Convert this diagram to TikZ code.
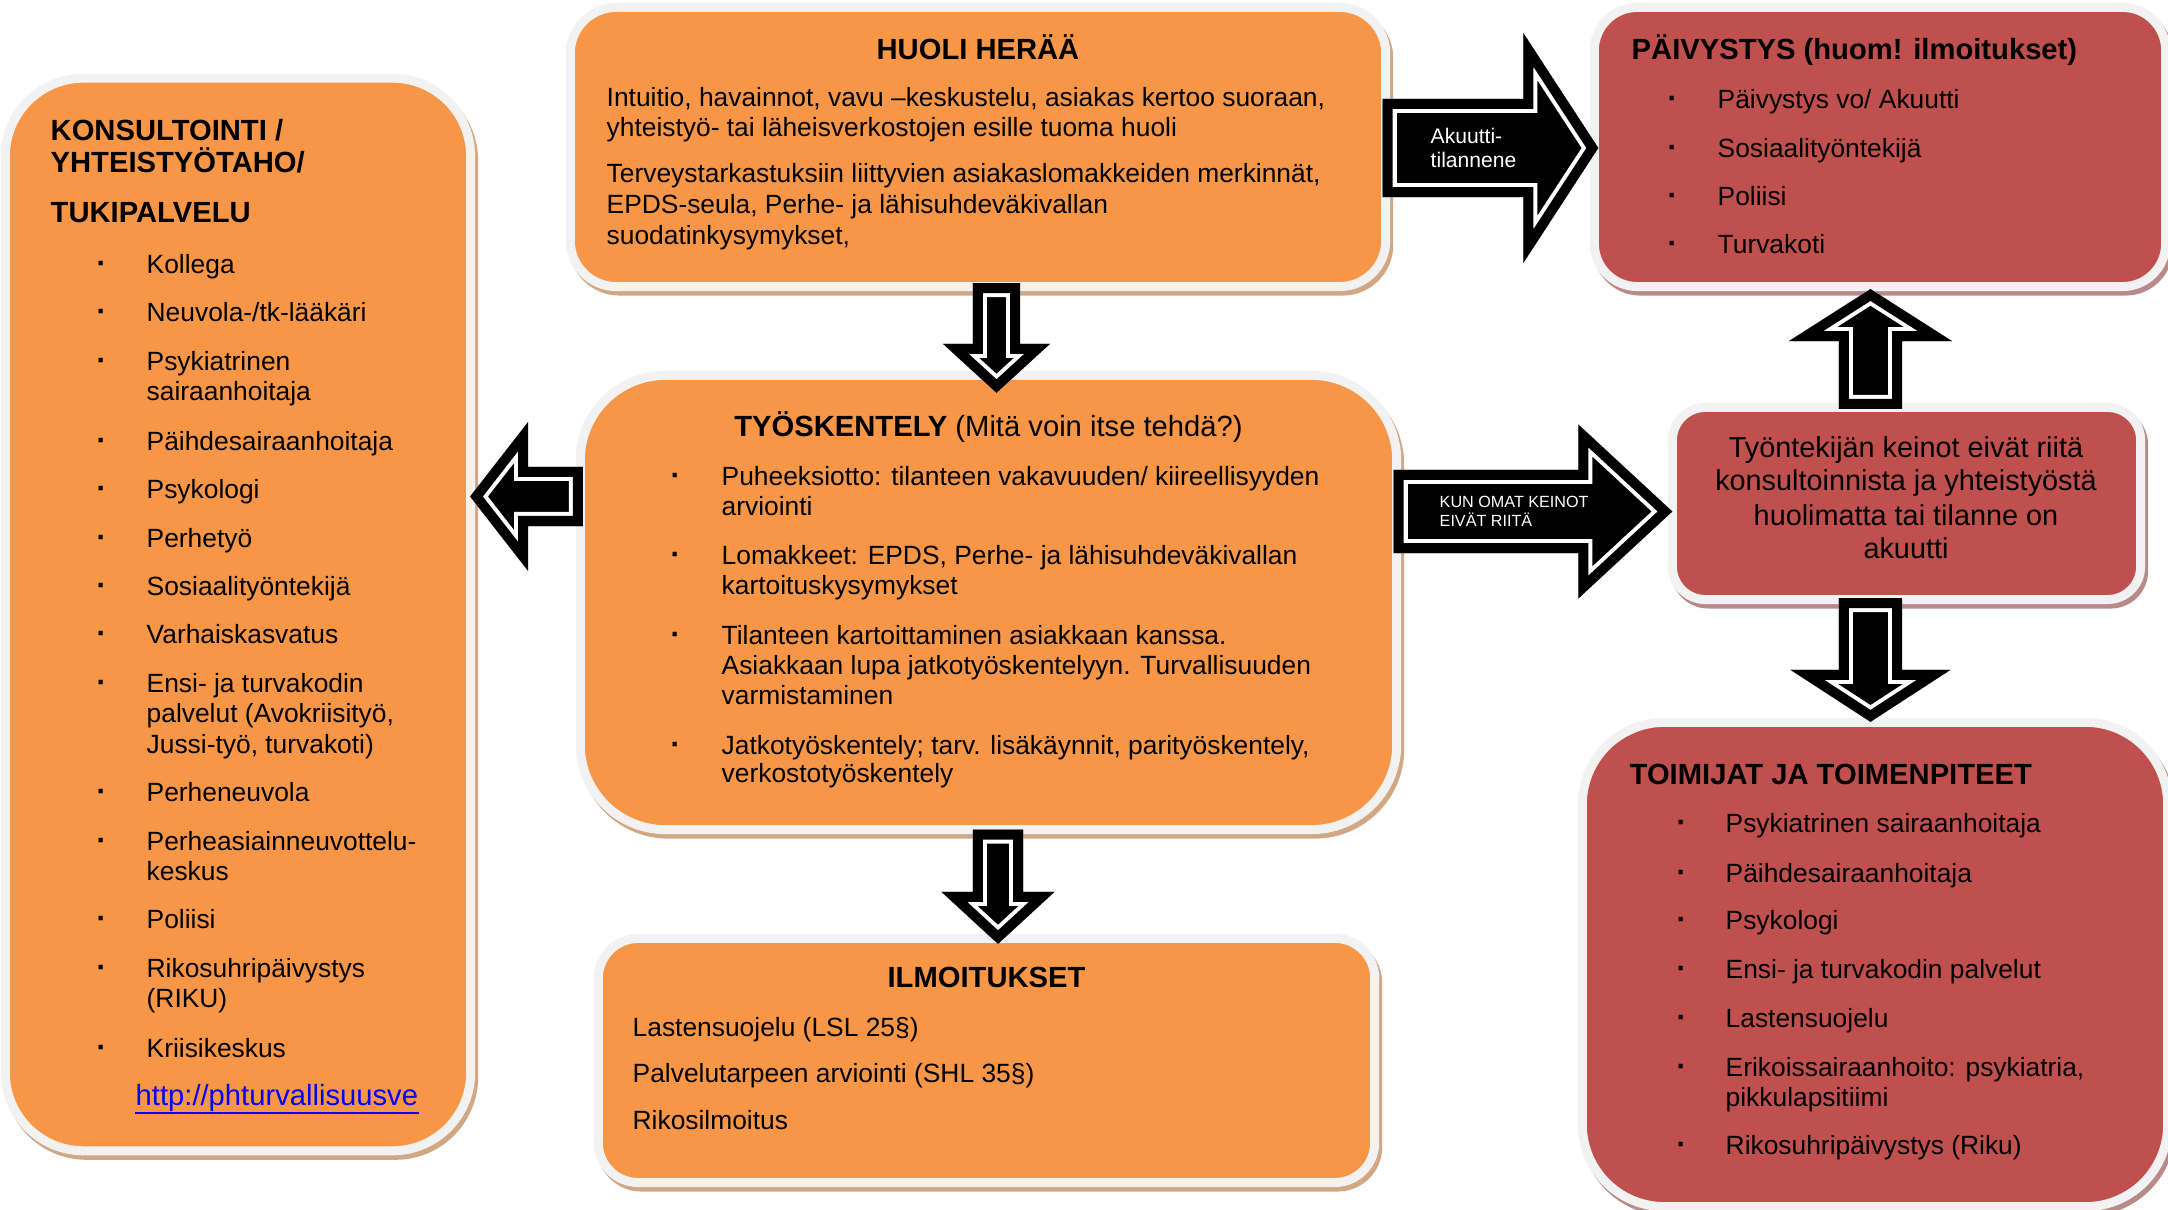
\documentclass[tikz,border=0pt]{standalone}
\usepackage{fontspec}
\setmainfont{Liberation Sans}
\usetikzlibrary{calc}

\definecolor{boxorange}{RGB}{247,150,70}
\definecolor{boxred}{RGB}{192,80,77}
\definecolor{rimgray}{RGB}{242,242,242}
\definecolor{tanshadow}{RGB}{210,168,132}
\definecolor{redshadow}{RGB}{185,138,138}
\definecolor{linkblue}{RGB}{0,0,255}

% block arrow: tail, tip, shaft half width, head half width, head length
\newcommand{\blockarrow}[5]{%
  \coordinate (ba-p) at (#2);
  \coordinate (ba-b) at ($(#2)!#5!(#1)$);
  \coordinate (ba-t1) at ($(#1)!#3!90:(#2)$);
  \coordinate (ba-t2) at ($(#1)!#3!-90:(#2)$);
  \coordinate (ba-s1) at ($(ba-b)!#3!90:(ba-p)$);
  \coordinate (ba-s2) at ($(ba-b)!#3!-90:(ba-p)$);
  \coordinate (ba-h1) at ($(ba-b)!#4!90:(ba-p)$);
  \coordinate (ba-h2) at ($(ba-b)!#4!-90:(ba-p)$);
  \begin{scope}
    \clip (ba-t1) -- (ba-s1) -- (ba-h1) -- (ba-p) -- (ba-h2) -- (ba-s2) -- (ba-t2) -- cycle;
    \fill[black, postaction={draw=white, line width=0.28cm}, postaction={draw=black, line width=0.2cm}]
      (ba-t1) -- (ba-s1) -- (ba-h1) -- (ba-p) -- (ba-h2) -- (ba-s2) -- (ba-t2) -- cycle;
  \end{scope}}

\tikzset{
  box/.style={rectangle, rounded corners=#1, draw=rimgray, line width=0.09cm, outer sep=0pt, inner sep=0pt},
  orangebox/.style={box=#1, fill=boxorange,
    preaction={draw=tanshadow, fill=tanshadow, line width=0.09cm, transform canvas={xshift=0.03cm, yshift=-0.045cm}}},
  redbox/.style={box=#1, fill=boxred,
    preaction={draw=redshadow, fill=redshadow, line width=0.09cm, transform canvas={xshift=0.03cm, yshift=-0.045cm}}},
  txt/.style={anchor=base west, inner sep=0pt, font=\fontsize{7.5}{9}\selectfont},
  bul/.style={anchor=base west, inner sep=0pt, font=\fontsize{8.5}{9}\selectfont\bfseries},
  ttl/.style={anchor=base west, inner sep=0pt, font=\fontsize{8.3}{10}\selectfont\bfseries},
  albl/.style={anchor=base west, inner sep=0pt, text=white}
}

\begin{document}
\begin{tikzpicture}[x=0.01cm, y=-0.01cm]
  \useasboundingbox (0,0) rectangle (2168,1210);

  % boxes
  \node[orangebox=0.46cm, minimum width=8.15cm, minimum height=2.79cm] (huoli) at (978,147) {};
  \node[orangebox=0.78cm, minimum width=4.65cm, minimum height=10.72cm] (konsult) at (238,614.5) {};
  \node[orangebox=0.85cm, minimum width=8.16cm, minimum height=4.54cm] (tyo) at (988.5,602.5) {};
  \node[orangebox=0.40cm, minimum width=7.76cm, minimum height=2.44cm] (ilmo) at (986.5,1060.5) {};
  \node[redbox=0.43cm, minimum width=5.71cm, minimum height=2.79cm] (paiv) at (1880,147) {};
  \node[redbox=0.33cm, minimum width=4.68cm, minimum height=1.92cm] (tyon) at (1906.5,503.5) {};
  \node[redbox=0.82cm, minimum width=5.85cm, minimum height=4.84cm] (toim) at (1875,964.5) {};

  % arrows between the boxes
  \coordinate (a1s) at ($(huoli.east)+(-3,1)$);
  \coordinate (a1e) at ($(paiv.west)+(4,1)$);
  \coordinate (a2s) at ($(tyo.east |- tyon.west)+(-3,8)$);
  \coordinate (a2e) at ($(tyon.west)+(0,8)$);
  \coordinate (a3s) at ($(huoli.south)+(18.5,-3.5)$);
  \coordinate (a3e) at ($(tyo.north)+(8,17.5)$);
  \coordinate (a4s) at ($(tyo.south)+(9.5,0)$);
  \coordinate (a4e) at ($(ilmo.north)+(11.5,5.5)$);
  \coordinate (a5s) at ($(tyon.north)+(-36,1.5)$);
  \coordinate (a5e) at ($(paiv.south)+(-9.5,2.5)$);
  \coordinate (a6s) at ($(tyon.south)+(-36,-1.5)$);
  \coordinate (a6e) at ($(toim.north)+(-4.5,-0.5)$);
  \coordinate (a7s) at ($(tyo.west)+(2.5,-106)$);
  \coordinate (a7e) at ($(konsult.east)+(-0.5,-118)$);

  \blockarrow{a1s}{a1e}{0.49cm}{1.15cm}{0.75cm}
  \blockarrow{a2s}{a2e}{0.415cm}{0.87cm}{0.94cm}
  \blockarrow{a3s}{a3e}{0.235cm}{0.535cm}{0.49cm}
  \blockarrow{a4s}{a4e}{0.25cm}{0.565cm}{0.52cm}
  \blockarrow{a5s}{a5e}{0.315cm}{0.815cm}{0.52cm}
  \blockarrow{a6s}{a6e}{0.315cm}{0.80cm}{0.52cm}
  \blockarrow{a7s}{a7e}{0.295cm}{0.745cm}{0.58cm}

  \node[albl, font=\fontsize{6}{7}\selectfont] (ak1) at (1430,144) {Akuutti-};
  \node[albl, font=\fontsize{6}{7}\selectfont] (ak2) at (1430,168) {tilannene};
  \node[albl, font=\fontsize{4.6}{5.5}\selectfont] (ko1) at (1439,508) {KUN OMAT KEINOT};
  \node[albl, font=\fontsize{4.6}{5.5}\selectfont] (ko2) at (1439,527) {EIVÄT RIITÄ};

  % HUOLI HERÄÄ
  \node[ttl, anchor=base] (huolit) at (978,60) {HUOLI HERÄÄ};
  \foreach \y/\t in {107/{Intuitio, havainnot, vavu –keskustelu, asiakas kertoo suoraan,},
                     137/{yhteistyö- tai läheisverkostojen esille tuoma huoli},
                     183/{Terveystarkastuksiin liittyvien asiakaslomakkeiden merkinnät,},
                     214/{EPDS-seula, Perhe- ja lähisuhdeväkivallan},
                     245/{suodatinkysymykset,}}
    \node[txt] (h\y) at (606,\y) {\t};

  % KONSULTOINTI
  \node[ttl] (kt1) at (50,141) {KONSULTOINTI /};
  \node[ttl] (kt2) at (50,173) {YHTEISTYÖTAHO/};
  \node[ttl] (kt3) at (50,223) {TUKIPALVELU};
  \foreach \y in {274,322,371,451,499,548,596,644,693,802,851,929,978,1058}
    \node[bul] (kb\y) at (96,\y) {·};
  \foreach \y/\t in {274/{Kollega}, 322/{Neuvola-/tk-lääkäri}, 371/{Psykiatrinen}, 401/{sairaanhoitaja},
                     451/{Päihdesairaanhoitaja}, 499/{Psykologi}, 548/{Perhetyö}, 596/{Sosiaalityöntekijä},
                     644/{Varhaiskasvatus}, 693/{Ensi- ja turvakodin}, 723/{palvelut (Avokriisityö,},
                     754/{Jussi-työ, turvakoti)}, 802/{Perheneuvola}, 851/{Perheasiainneuvottelu-},
                     881/{keskus}, 929/{Poliisi}, 978/{Rikosuhripäivystys}, 1008/{(RIKU)}, 1058/{Kriisikeskus}}
    \node[txt] (k\y) at (146,\y) {\t};
  \node[txt, font=\fontsize{8.3}{10}\selectfont, text=linkblue] (link) at (135,1106) {http://phturvallisuusve};
  \draw[linkblue, line width=0.02cm] ($(link.base west)+(0,7)$) -- ($(link.base east)+(0,7)$);

  % TYÖSKENTELY
  \node[ttl, anchor=base, font=\fontsize{8.3}{10}\selectfont] (tyot) at (988.5,437) {\textbf{TYÖSKENTELY} (Mitä voin itse tehdä?)};
  \foreach \y in {486,565,645,755}
    \node[bul] (tb\y) at (670,\y) {·};
  \foreach \y/\t in {486/{Puheeksiotto: tilanteen vakavuuden/ kiireellisyyden}, 516/{arviointi},
                     565/{Lomakkeet: EPDS, Perhe- ja lähisuhdeväkivallan}, 595/{kartoituskysymykset},
                     645/{Tilanteen kartoittaminen asiakkaan kanssa.},
                     675/{Asiakkaan lupa jatkotyöskentelyyn. Turvallisuuden}, 705/{varmistaminen},
                     755/{Jatkotyöskentely; tarv. lisäkäynnit, parityöskentely,}, 783/{verkostotyöskentely}}
    \node[txt] (t\y) at (721,\y) {\t};

  % ILMOITUKSET
  \node[ttl, anchor=base] (ilmot) at (986.5,988) {ILMOITUKSET};
  \foreach \y/\t in {1037/{Lastensuojelu (LSL 25§)}, 1083/{Palvelutarpeen arviointi (SHL 35§)}, 1130/{Rikosilmoitus}}
    \node[txt] (i\y) at (632,\y) {\t};

  % PÄIVYSTYS
  \node[ttl] (paivt) at (1631,60) {PÄIVYSTYS (huom! ilmoitukset)};
  \foreach \y/\t in {109/{Päivystys vo/ Akuutti}, 158/{Sosiaalityöntekijä}, 206/{Poliisi}, 254/{Turvakoti}} {
    \node[bul] (pb\y) at (1667,\y) {·};
    \node[txt] (p\y) at (1717,\y) {\t};
  }

  % Työntekijän keinot
  \foreach \y/\t in {458/{Työntekijän keinot eivät riitä}, 491/{konsultoinnista ja yhteistyöstä},
                     526/{huolimatta tai tilanne on}, 559/{akuutti}}
    \node[anchor=base, inner sep=0pt, font=\fontsize{8.2}{9.5}\selectfont] (w\y) at (1906,\y) {\t};

  % TOIMIJAT JA TOIMENPITEET
  \node[ttl] (toimt) at (1629,785) {TOIMIJAT JA TOIMENPITEET};
  \foreach \y in {833,883,930,979,1028,1077,1155}
    \node[bul] (ob\y) at (1676,\y) {·};
  \foreach \y/\t in {833/{Psykiatrinen sairaanhoitaja}, 883/{Päihdesairaanhoitaja}, 930/{Psykologi},
                     979/{Ensi- ja turvakodin palvelut}, 1028/{Lastensuojelu},
                     1077/{Erikoissairaanhoito: psykiatria,}, 1107/{pikkulapsitiimi},
                     1155/{Rikosuhripäivystys (Riku)}}
    \node[txt] (o\y) at (1725,\y) {\t};
\end{tikzpicture}
\end{document}
